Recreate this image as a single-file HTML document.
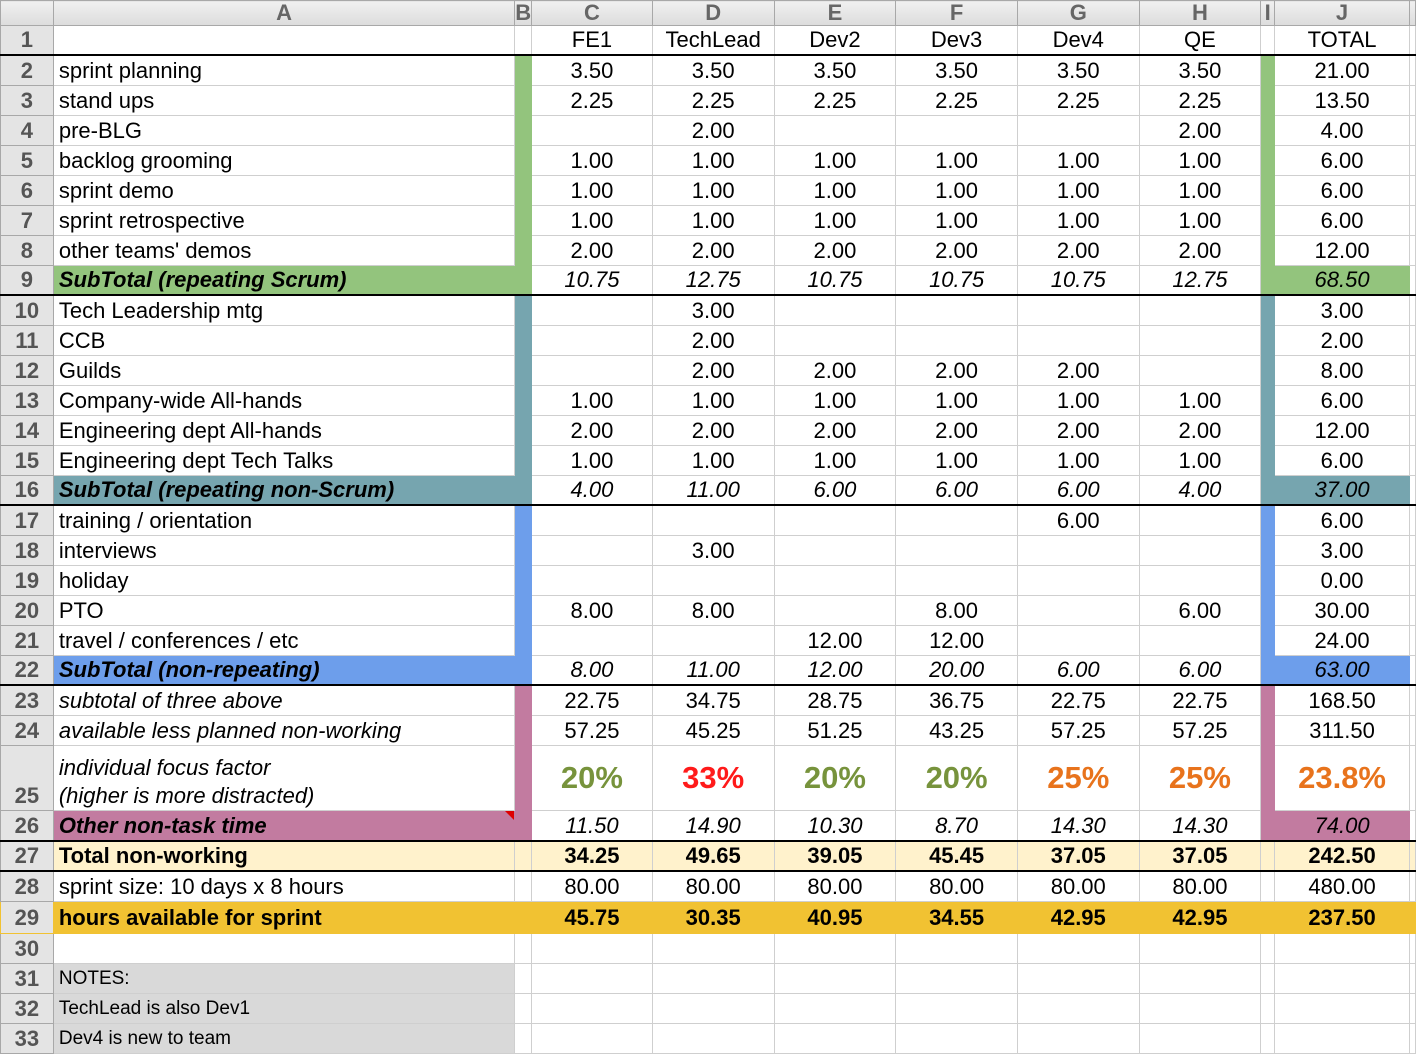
<!DOCTYPE html>
<html><head><meta charset="utf-8"><style>
html,body{margin:0;padding:0;background:#fff;width:1416px;height:1054px;overflow:hidden}
table{border-collapse:collapse;table-layout:fixed;font-family:"Liberation Sans",Arial,sans-serif;font-size:22px;color:#000}
td{border:1px solid #cfcfcf;padding:0;height:29px;text-align:center;white-space:nowrap;overflow:hidden;line-height:28px}
td.a{text-align:left;padding-left:5px}
td.rn{background:#e4e4e4;color:#555;font-weight:bold;font-size:22px;border-color:#a8a8a8}
tr.hd td{background:linear-gradient(#f0f0f0,#dcdcdc);color:#666;font-weight:bold;height:24px;line-height:22px;border-color:#a8a8a8}
.g{background:#93c47d;border-color:#93c47d !important}.t{background:#76a5af;border-color:#76a5af !important}.b{background:#6d9eeb;border-color:#6d9eeb !important}.p{background:#c27ba0;border-color:#c27ba0 !important}
.sub td{font-style:italic}
.sub td.a{font-weight:bold}
.tb td{border-bottom:2px solid #000 !important;height:28px}
.ly td{background:#fff2cc;font-weight:bold;border-top:2px solid #000;border-bottom:2px solid #000;height:27px}
.gold td{background:#f1c232;font-weight:bold;border-color:#f1c232}
.pc{font-size:31px;font-weight:bold}
.gr{color:#77933c}.rd{color:#ff1a1a}.or{color:#e8731c}
.n td.a{background:#d9d9d9;font-size:19px}
td.rn{background:#e4e4e4 !important;color:#555 !important;font-weight:bold;font-style:normal !important}
</style></head><body>
<table>
<colgroup><col style="width:53px"><col style="width:462px"><col style="width:15px"><col style="width:121px"><col style="width:122px"><col style="width:122px"><col style="width:122px"><col style="width:122px"><col style="width:122px"><col style="width:14px"><col style="width:135px"><col style="width:6px"></colgroup>
<tr class="hd"><td></td><td>A</td><td>B</td><td>C</td><td>D</td><td>E</td><td>F</td><td>G</td><td>H</td><td>I</td><td>J</td><td></td></tr>
<tr class="tb"><td class="rn">1</td><td class="a"></td><td></td><td>FE1</td><td>TechLead</td><td>Dev2</td><td>Dev3</td><td>Dev4</td><td>QE</td><td></td><td>TOTAL</td><td></td></tr>
<tr><td class="rn">2</td><td class="a">sprint planning</td><td class="g"></td><td>3.50</td><td>3.50</td><td>3.50</td><td>3.50</td><td>3.50</td><td>3.50</td><td class="g"></td><td>21.00</td><td></td></tr>
<tr><td class="rn">3</td><td class="a">stand ups</td><td class="g"></td><td>2.25</td><td>2.25</td><td>2.25</td><td>2.25</td><td>2.25</td><td>2.25</td><td class="g"></td><td>13.50</td><td></td></tr>
<tr><td class="rn">4</td><td class="a">pre-BLG</td><td class="g"></td><td></td><td>2.00</td><td></td><td></td><td></td><td>2.00</td><td class="g"></td><td>4.00</td><td></td></tr>
<tr><td class="rn">5</td><td class="a">backlog grooming</td><td class="g"></td><td>1.00</td><td>1.00</td><td>1.00</td><td>1.00</td><td>1.00</td><td>1.00</td><td class="g"></td><td>6.00</td><td></td></tr>
<tr><td class="rn">6</td><td class="a">sprint demo</td><td class="g"></td><td>1.00</td><td>1.00</td><td>1.00</td><td>1.00</td><td>1.00</td><td>1.00</td><td class="g"></td><td>6.00</td><td></td></tr>
<tr><td class="rn">7</td><td class="a">sprint retrospective</td><td class="g"></td><td>1.00</td><td>1.00</td><td>1.00</td><td>1.00</td><td>1.00</td><td>1.00</td><td class="g"></td><td>6.00</td><td></td></tr>
<tr><td class="rn">8</td><td class="a">other teams' demos</td><td class="g"></td><td>2.00</td><td>2.00</td><td>2.00</td><td>2.00</td><td>2.00</td><td>2.00</td><td class="g"></td><td>12.00</td><td></td></tr>
<tr class="sub tb"><td class="rn">9</td><td class="a g">SubTotal (repeating Scrum)</td><td class="g"></td><td>10.75</td><td>12.75</td><td>10.75</td><td>10.75</td><td>10.75</td><td>12.75</td><td class="g"></td><td class="g">68.50</td><td></td></tr>
<tr><td class="rn">10</td><td class="a">Tech Leadership mtg</td><td class="t"></td><td></td><td>3.00</td><td></td><td></td><td></td><td></td><td class="t"></td><td>3.00</td><td></td></tr>
<tr><td class="rn">11</td><td class="a">CCB</td><td class="t"></td><td></td><td>2.00</td><td></td><td></td><td></td><td></td><td class="t"></td><td>2.00</td><td></td></tr>
<tr><td class="rn">12</td><td class="a">Guilds</td><td class="t"></td><td></td><td>2.00</td><td>2.00</td><td>2.00</td><td>2.00</td><td></td><td class="t"></td><td>8.00</td><td></td></tr>
<tr><td class="rn">13</td><td class="a">Company-wide All-hands</td><td class="t"></td><td>1.00</td><td>1.00</td><td>1.00</td><td>1.00</td><td>1.00</td><td>1.00</td><td class="t"></td><td>6.00</td><td></td></tr>
<tr><td class="rn">14</td><td class="a">Engineering dept All-hands</td><td class="t"></td><td>2.00</td><td>2.00</td><td>2.00</td><td>2.00</td><td>2.00</td><td>2.00</td><td class="t"></td><td>12.00</td><td></td></tr>
<tr><td class="rn">15</td><td class="a">Engineering dept Tech Talks</td><td class="t"></td><td>1.00</td><td>1.00</td><td>1.00</td><td>1.00</td><td>1.00</td><td>1.00</td><td class="t"></td><td>6.00</td><td></td></tr>
<tr class="sub tb"><td class="rn">16</td><td class="a t">SubTotal (repeating non-Scrum)</td><td class="t"></td><td>4.00</td><td>11.00</td><td>6.00</td><td>6.00</td><td>6.00</td><td>4.00</td><td class="t"></td><td class="t">37.00</td><td></td></tr>
<tr><td class="rn">17</td><td class="a">training / orientation</td><td class="b"></td><td></td><td></td><td></td><td></td><td>6.00</td><td></td><td class="b"></td><td>6.00</td><td></td></tr>
<tr><td class="rn">18</td><td class="a">interviews</td><td class="b"></td><td></td><td>3.00</td><td></td><td></td><td></td><td></td><td class="b"></td><td>3.00</td><td></td></tr>
<tr><td class="rn">19</td><td class="a">holiday</td><td class="b"></td><td></td><td></td><td></td><td></td><td></td><td></td><td class="b"></td><td>0.00</td><td></td></tr>
<tr><td class="rn">20</td><td class="a">PTO</td><td class="b"></td><td>8.00</td><td>8.00</td><td></td><td>8.00</td><td></td><td>6.00</td><td class="b"></td><td>30.00</td><td></td></tr>
<tr><td class="rn">21</td><td class="a">travel / conferences / etc</td><td class="b"></td><td></td><td></td><td>12.00</td><td>12.00</td><td></td><td></td><td class="b"></td><td>24.00</td><td></td></tr>
<tr class="sub tb"><td class="rn">22</td><td class="a b">SubTotal (non-repeating)</td><td class="b"></td><td>8.00</td><td>11.00</td><td>12.00</td><td>20.00</td><td>6.00</td><td>6.00</td><td class="b"></td><td class="b">63.00</td><td></td></tr>
<tr><td class="rn">23</td><td class="a"><i>subtotal of three above</i></td><td class="p"></td><td>22.75</td><td>34.75</td><td>28.75</td><td>36.75</td><td>22.75</td><td>22.75</td><td class="p"></td><td>168.50</td><td></td></tr>
<tr><td class="rn">24</td><td class="a"><i>available less planned non-working</i></td><td class="p"></td><td>57.25</td><td>45.25</td><td>51.25</td><td>43.25</td><td>57.25</td><td>57.25</td><td class="p"></td><td>311.50</td><td></td></tr>
<tr><td class="rn" style="height:64px;vertical-align:bottom">25</td><td class="a" style="height:64px;line-height:28px;white-space:normal;vertical-align:bottom;font-style:italic">individual focus factor<br>(higher is more distracted)</td><td class="p"></td><td class="pc gr">20%</td><td class="pc rd">33%</td><td class="pc gr">20%</td><td class="pc gr">20%</td><td class="pc or">25%</td><td class="pc or">25%</td><td class="p"></td><td class="pc or">23.8%</td><td></td></tr>
<tr class="sub"><td class="rn">26</td><td class="a p" style="position:relative">Other non-task time<span style="position:absolute;right:0;top:0;width:0;height:0;border-top:9px solid #d00;border-left:9px solid transparent"></span></td><td class="p"></td><td>11.50</td><td>14.90</td><td>10.30</td><td>8.70</td><td>14.30</td><td>14.30</td><td class="p"></td><td class="p">74.00</td><td></td></tr>
<tr class="ly"><td class="rn">27</td><td class="a">Total non-working</td><td></td><td>34.25</td><td>49.65</td><td>39.05</td><td>45.45</td><td>37.05</td><td>37.05</td><td></td><td>242.50</td><td></td></tr>
<tr><td class="rn">28</td><td class="a">sprint size: 10 days x 8 hours</td><td></td><td>80.00</td><td>80.00</td><td>80.00</td><td>80.00</td><td>80.00</td><td>80.00</td><td></td><td>480.00</td><td></td></tr>
<tr class="gold"><td class="rn" style="height:31px">29</td><td class="a">hours available for sprint</td><td></td><td>45.75</td><td>30.35</td><td>40.95</td><td>34.55</td><td>42.95</td><td>42.95</td><td></td><td>237.50</td><td></td></tr>
<tr><td class="rn">30</td><td class="a"></td><td></td><td></td><td></td><td></td><td></td><td></td><td></td><td></td><td></td><td></td></tr>
<tr class="n"><td class="rn">31</td><td class="a">NOTES:</td><td></td><td></td><td></td><td></td><td></td><td></td><td></td><td></td><td></td><td></td></tr>
<tr class="n"><td class="rn">32</td><td class="a">TechLead is also Dev1</td><td></td><td></td><td></td><td></td><td></td><td></td><td></td><td></td><td></td><td></td></tr>
<tr class="n"><td class="rn">33</td><td class="a">Dev4 is new to team</td><td></td><td></td><td></td><td></td><td></td><td></td><td></td><td></td><td></td><td></td></tr>
</table>
</body></html>
